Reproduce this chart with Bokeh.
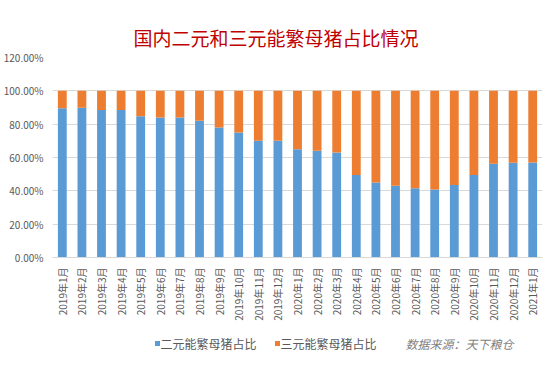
from bokeh.plotting import figure
from bokeh.layouts import column
from bokeh.models import (FactorRange, NumeralTickFormatter, FixedTicker, Range1d,
                          ColumnDataSource)
from bokeh.core.properties import value
from bokeh.embed import file_html
from bokeh.resources import INLINE
import math

months = ["2019年1月", "2019年2月", "2019年3月", "2019年4月", "2019年5月", "2019年6月",
          "2019年7月", "2019年8月", "2019年9月", "2019年10月", "2019年11月", "2019年12月",
          "2020年1月", "2020年2月", "2020年3月", "2020年4月", "2020年5月", "2020年6月",
          "2020年7月", "2020年8月", "2020年9月", "2020年10月", "2020年11月", "2020年12月",
          "2021年1月"]
er_yuan = [0.895, 0.898, 0.885, 0.885, 0.847, 0.840, 0.840, 0.820, 0.780, 0.750, 0.700, 0.700,
           0.650, 0.640, 0.630, 0.495, 0.450, 0.430, 0.415, 0.408, 0.435, 0.495, 0.562, 0.568,
           0.570]
san_yuan = [0.105, 0.102, 0.115, 0.115, 0.153, 0.160, 0.160, 0.180, 0.220, 0.250, 0.300, 0.300,
            0.350, 0.360, 0.370, 0.505, 0.550, 0.570, 0.585, 0.592, 0.565, 0.505, 0.438, 0.432,
            0.430]
y_ticks = [0, 0.2, 0.4, 0.6, 0.8, 1.0, 1.2]

title_text = "国内二元和三元能繁母猪占比情况"
series_names = ["二元能繁母猪占比", "三元能繁母猪占比"]
series_colors = ["#5b9bd5", "#ed7d31"]
source_text = "数据来源：天下粮仓"

FONT = "Noto Sans CJK SC"

src = ColumnDataSource(dict(x=months, er=er_yuan, san=san_yuan))

p = figure(x_range=FactorRange(*months), y_range=(0, 1.2),
           frame_width=490, frame_height=200,
           output_backend="svg", toolbar_location=None,
           min_border_left=52, min_border_right=8, min_border_top=57, min_border_bottom=71)

r = p.vbar_stack(["er", "san"], x="x", width=0.45, source=src,
                 color=series_colors, line_color=None)

p.title.text = title_text
p.title.text_font = FONT
p.title.text_font_size = "19px"
p.title.text_font_style = "normal"
p.title.text_color = "#c00000"
p.title.align = "left"
p.title.offset = 81
p.title.standoff = 14

p.outline_line_color = None
p.xgrid.grid_line_color = None
p.ygrid.grid_line_color = "#d9d9d9"
p.ygrid.ticker = FixedTicker(ticks=y_ticks)

p.yaxis.ticker = FixedTicker(ticks=y_ticks)
p.yaxis.formatter = NumeralTickFormatter(format="0.00%")
p.yaxis.axis_line_color = None
p.yaxis.major_tick_line_color = None
p.yaxis.minor_tick_line_color = None
p.yaxis.major_tick_out = 0
p.yaxis.major_tick_in = 0
p.yaxis.major_label_text_font = FONT
p.yaxis.major_label_text_font_size = "10px"
p.yaxis.major_label_text_color = "#595959"
p.yaxis.major_label_standoff = 9

p.xaxis.axis_line_color = "#d9d9d9"
p.xaxis.major_tick_line_color = None
p.xaxis.minor_tick_line_color = None
p.xaxis.major_tick_out = 0
p.xaxis.major_tick_in = 0
p.xaxis.major_label_orientation = math.pi / 2
p.xaxis.major_label_text_font = FONT
p.xaxis.major_label_text_font_size = "10px"
p.xaxis.major_label_text_color = "#595959"
p.xaxis.major_label_standoff = 10

# legend / source row (its frame is aligned with the main frame: x 52..542, y 328..368)
p2 = figure(width=550, height=40, x_range=Range1d(52, 542), y_range=Range1d(368, 328),
            output_backend="svg", toolbar_location=None,
            x_axis_location=None, y_axis_location=None,
            min_border=0, min_border_left=52, min_border_right=8,
            min_border_top=0, min_border_bottom=0)
p2.outline_line_color = None
p2.grid.visible = False

legend_square_x = [157, 277]
legend_text_x = [160, 280]
row_y = 343
p2.scatter(x=legend_square_x, y=[row_y, row_y], marker="square", size=5,
           color=series_colors, line_color=None)
p2.text(x=legend_text_x, y=[row_y, row_y], text=series_names, text_baseline="middle",
        text_font=value(FONT), text_font_size="12px", text_color="#595959")
p2.text(x=[405], y=[row_y], text=[source_text], text_baseline="middle",
        text_font=value(FONT), text_font_size="12px", text_font_style="italic",
        text_color="#7f7f7f")

layout = column(p, p2, spacing=0)
open("out.html", "w").write(file_html(layout, INLINE))
